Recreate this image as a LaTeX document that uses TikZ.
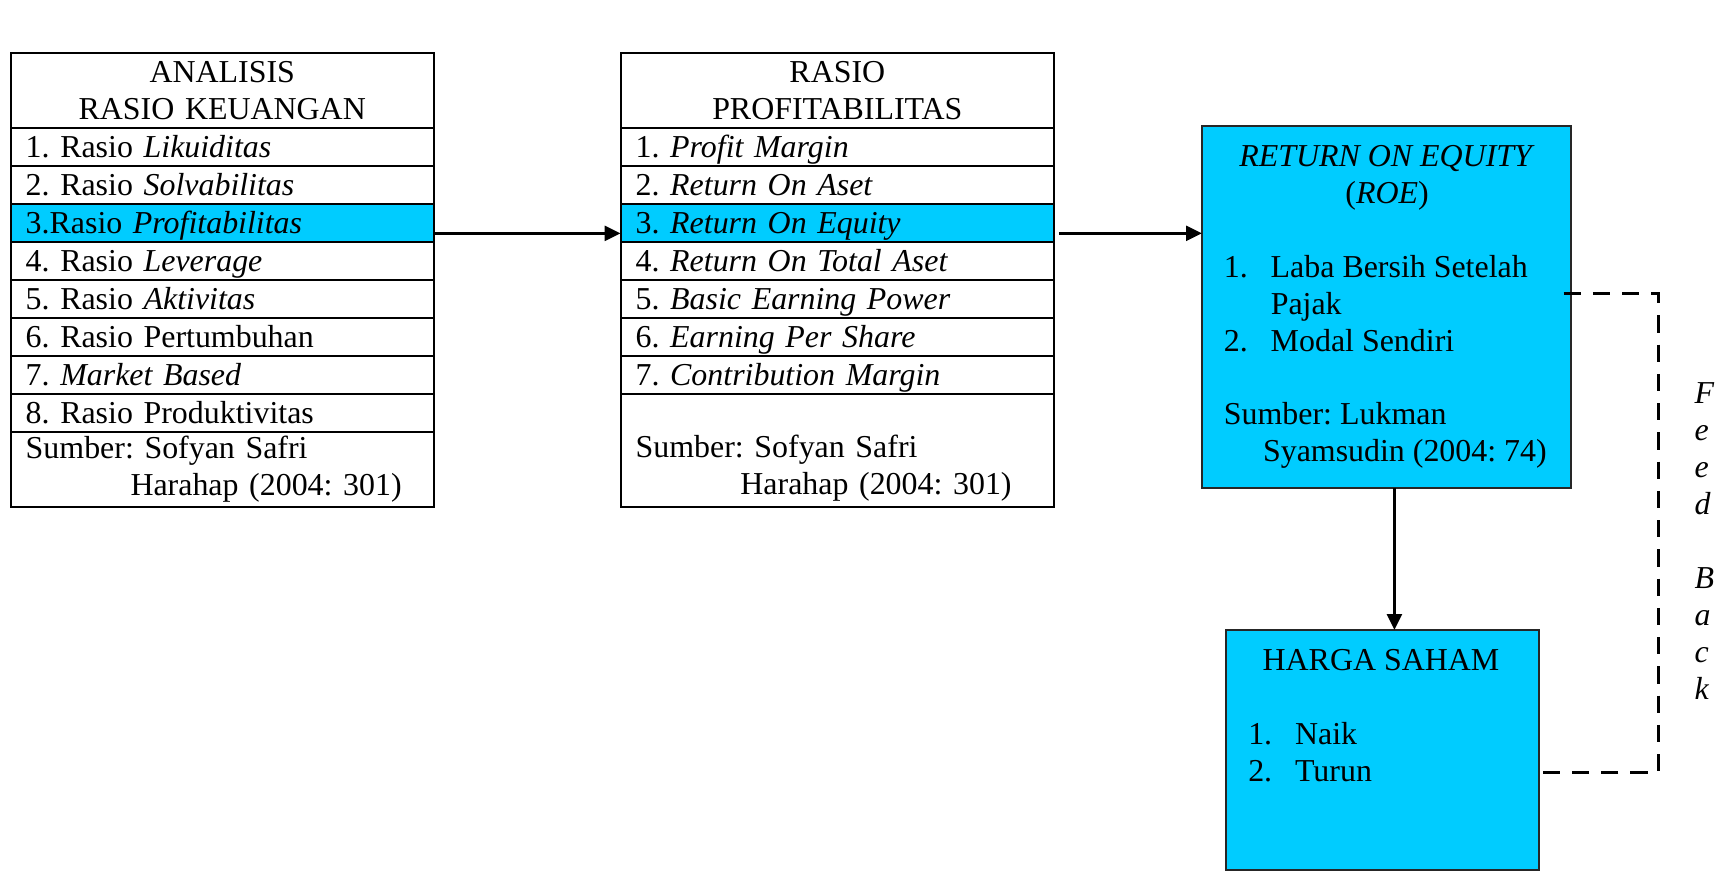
\documentclass[tikz,border=0pt]{standalone}
\usepackage{fontspec}
\setmainfont{Liberation Serif}
\usetikzlibrary{arrows.meta, positioning}
\definecolor{roeblue}{RGB}{0,204,255}
\frenchspacing

\begin{document}
\begin{tikzpicture}[
        x=0.376pt, y=-0.376pt,
        font=\fontsize{12}{13.9}\selectfont,
        cell/.style={rectangle, draw, line width=0.75pt, inner xsep=5.65pt, inner ysep=0pt, outer sep=0pt, text width=#1},
        row/.style={cell=#1, minimum height=14.29pt, text height=8pt, text depth=0pt, align=left},
        head/.style={cell=#1, minimum height=28.2pt, align=center},
        bluebox/.style={rectangle, draw=black!85, line width=0.75pt, fill=roeblue, inner sep=0pt, outer sep=0pt, anchor=north west},
        txt/.style={inner sep=0pt},
        arrow/.style={-{Triangle[length=6pt, width=5.5pt]}, line width=1.3pt},
        feedback/.style={line width=1.3pt, dash pattern=on 6.5pt off 4.5pt}
    ]
    \useasboundingbox (0,0) rectangle (1724,874);

    % analisis rasio keuangan
    \node[head=147.8pt, anchor=north west] (ana0) at (10.7,52.7) {ANALISIS\\RASIO KEUANGAN};
    \node[row=147.8pt, below=0pt of ana0] (ana1) {1. Rasio \textit{Likuiditas}};
    \node[row=147.8pt, below=0pt of ana1] (ana2) {2. Rasio \textit{Solvabilitas}};
    \node[row=147.8pt, below=0pt of ana2, fill=roeblue] (ana3) {3.Rasio \textit{Profitabilitas}};
    \node[row=147.8pt, below=0pt of ana3] (ana4) {4. Rasio \textit{Leverage}};
    \node[row=147.8pt, below=0pt of ana4] (ana5) {5. Rasio \textit{Aktivitas}};
    \node[row=147.8pt, below=0pt of ana5] (ana6) {6. Rasio Pertumbuhan};
    \node[row=147.8pt, below=0pt of ana6] (ana7) {7. \textit{Market Based}};
    \node[row=147.8pt, below=0pt of ana7] (ana8) {8. Rasio Produktivitas};
    \node[cell=147.8pt, minimum height=28.3pt, align=left, below=0pt of ana8] (anasrc) {Sumber: Sofyan Safri\\\hspace*{39.4pt}Harahap (2004: 301)};

    % rasio profitabilitas
    \node[head=151.7pt, anchor=north west] (pro0) at (620.6,52.7) {RASIO\\PROFITABILITAS};
    \node[row=151.7pt, below=0pt of pro0] (pro1) {1. \textit{Profit Margin}};
    \node[row=151.7pt, below=0pt of pro1] (pro2) {2. \textit{Return On Aset}};
    \node[row=151.7pt, below=0pt of pro2, fill=roeblue] (pro3) {3. \textit{Return On Equity}};
    \node[row=151.7pt, below=0pt of pro3] (pro4) {4. \textit{Return On Total Aset}};
    \node[row=151.7pt, below=0pt of pro4] (pro5) {5. \textit{Basic Earning Power}};
    \node[row=151.7pt, below=0pt of pro5] (pro6) {6. \textit{Earning Per Share}};
    \node[row=151.7pt, below=0pt of pro6] (pro7) {7. \textit{Contribution Margin}};
    \node[cell=151.7pt, minimum height=42.6pt, align=left, below=0pt of pro7] (prosrc) {\rule{0pt}{8pt}\\Sumber: Sofyan Safri\\\hspace*{39.4pt}Harahap (2004: 301)};

    % return on equity
    \node[bluebox, minimum width=138.7pt, minimum height=136.1pt] (roe) at (1202,126) {};
    \node[txt, align=center] (roetitle) at (1387,178) {\textit{RETURN ON EQUITY}\\(\textit{ROE})};
    \node[txt, align=left, anchor=west] (roeitems) at (1223.4,303.3) {\makebox[17.6pt][l]{1.}Laba Bersih Setelah\\\hspace*{17.6pt}Pajak\\\makebox[17.6pt][l]{2.}Modal Sendiri};
    \node[txt, align=left, anchor=west] (roesrc) at (1223.4,435) {Sumber: Lukman\\\hspace*{14.7pt}Syamsudin (2004: 74)};

    % harga saham
    \node[bluebox, minimum width=117.9pt, minimum height=90.2pt] (harga) at (1225.8,630) {};
    \node[txt] (hargatitle) at (1381,660) {HARGA SAHAM};
    \node[txt, align=left, anchor=west] (hargaitems) at (1247.7,752.5) {\makebox[17.6pt][l]{1.}Naik\\\makebox[17.6pt][l]{2.}Turun};

    % feed back
    \node[txt, align=left, anchor=west] (fblabel) at (1694,540.8) {\textit{F}\\\textit{e}\\\textit{e}\\\textit{d}\\[13.9pt]\textit{B}\\\textit{a}\\\textit{c}\\\textit{k}};

    % connectors
    \draw[arrow] ([yshift=-4pt]ana3.east) -- ([yshift=-4pt]pro3.west);
    \draw[arrow] ([xshift=1.8pt, yshift=-4pt]pro3.east) coordinate (a2) -- (a2 -| roe.west);
    \draw[arrow] ([xshift=3pt]roe.south) -- ([xshift=3pt]roe.south |- harga.north);
    \coordinate (fbturn) at (1658.5,0);
    \coordinate (hgfb) at ([yshift=-8.5pt]harga.east);
    \draw[feedback] ([xshift=-2.75pt, yshift=5.15pt]roe.east) -| (hgfb -| fbturn) -- (hgfb);

\end{tikzpicture}
\end{document}
